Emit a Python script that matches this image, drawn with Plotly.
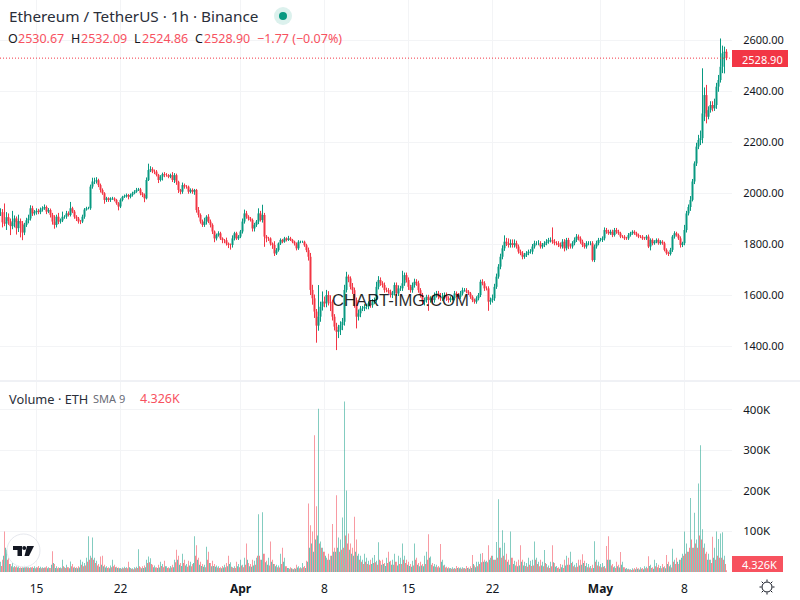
from datetime import datetime, timedelta
import plotly.graph_objects as go

FONT = "Noto Sans"
UP = "#089981"
DOWN = "#f23645"
TEXT = "#131722"
LABEL_RED = "#f7525f"
GRID = "#f3f4f6"

# one row per 20 px of chart, candles in 4h steps
start = datetime(2025, 3, 12)
closes = [
    1925, 1885, 1880, 1905, 1890, 1870, 1885, 1900, 1862, 1890,
    1880, 1845, 1875, 1893, 1900, 1940, 1920, 1925, 1930, 1925,
    1935, 1940, 1945, 1927, 1933, 1914, 1888, 1875, 1907, 1888,
    1892, 1907, 1907, 1920, 1914, 1940, 1927, 1907, 1900, 1888,
    1888, 1907, 1935, 1940, 1940, 2025, 2045, 2045, 2050, 2031,
    2012, 1999, 1973, 1979, 1973, 1979, 1979, 1973, 1960, 1947,
    1973, 1985, 1988, 1992, 1985, 1992, 1999, 2005, 2012, 2014,
    1999, 1992, 1979, 2051, 2090, 2093, 2084, 2084, 2071, 2051,
    2064, 2074, 2070, 2070, 2064, 2070, 2051, 2070, 2044, 2012,
    2005, 2031, 2025, 2025, 2005, 2012, 2005, 2012, 1933, 1914,
    1888, 1875, 1888, 1907, 1888, 1875, 1849, 1822, 1835, 1842,
    1822, 1815, 1815, 1802, 1796, 1796, 1822, 1842, 1822, 1829,
    1849, 1888, 1920, 1907, 1900, 1894, 1861, 1875, 1888, 1920,
    1894, 1914, 1829, 1822, 1822, 1802, 1796, 1763, 1776, 1802,
    1816, 1809, 1822, 1816, 1822, 1816, 1809, 1802, 1783, 1809,
    1809, 1809, 1795, 1776, 1750, 1620, 1587, 1535, 1480, 1515,
    1554, 1574, 1567, 1600, 1574, 1567, 1515, 1476, 1456, 1463,
    1482, 1495, 1620, 1672, 1665, 1632, 1619, 1580, 1515, 1528,
    1547, 1547, 1554, 1554, 1567, 1560, 1574, 1580, 1632, 1659,
    1646, 1639, 1619, 1619, 1613, 1600, 1606, 1639, 1606, 1626,
    1626, 1646, 1678, 1659, 1632, 1619, 1639, 1652, 1646, 1619,
    1600, 1574, 1580, 1593, 1580, 1587, 1580, 1600, 1606, 1593,
    1587, 1593, 1600, 1587, 1580, 1587, 1587, 1606, 1600, 1593,
    1606, 1619, 1619, 1613, 1606, 1593, 1580, 1574, 1587, 1600,
    1652, 1646, 1626, 1626, 1574, 1580, 1587, 1632, 1672, 1711,
    1750, 1783, 1809, 1802, 1796, 1803, 1796, 1803, 1790, 1770,
    1764, 1750, 1757, 1764, 1770, 1770, 1790, 1803, 1803, 1803,
    1790, 1796, 1803, 1809, 1816, 1816, 1809, 1803, 1803, 1796,
    1790, 1809, 1783, 1816, 1790, 1790, 1803, 1816, 1829, 1822,
    1809, 1796, 1790, 1803, 1803, 1803, 1737, 1790, 1803, 1816,
    1816, 1822, 1855, 1848, 1842, 1848, 1835, 1855, 1848, 1842,
    1829, 1829, 1822, 1822, 1835, 1842, 1848, 1842, 1835, 1829,
    1829, 1822, 1822, 1829, 1790, 1816, 1803, 1809, 1816, 1803,
    1809, 1803, 1777, 1764, 1761, 1777, 1829, 1842, 1835, 1822,
    1796, 1803, 1855, 1920, 1945, 1973, 2045, 2116, 2182, 2208,
    2215, 2312, 2384, 2299, 2325, 2345, 2332, 2345, 2417, 2443,
    2495, 2548, 2554, 2528.9,
]
up_wicks = [
    15, 12, 74, 20, 15, 10, 45, 12, 8, 25,
    10, 10, 8, 10, 15, 12, 10, 8, 10, 8,
    8, 8, 10, 6, 8, 6, 8, 25, 8, 15,
    8, 20, 6, 10, 8, 25, 6, 6, 6, 6,
    6, 8, 6, 6, 6, 8, 15, 15, 12, 6,
    6, 6, 4, 6, 4, 4, 6, 4, 4, 4,
    6, 4, 6, 6, 4, 6, 6, 6, 8, 6,
    6, 4, 6, 10, 25, 12, 8, 8, 6, 4,
    6, 6, 8, 8, 4, 6, 12, 8, 6, 4,
    4, 10, 6, 6, 4, 6, 6, 4, 4, 12,
    6, 8, 15, 6, 10, 8, 6, 4, 6, 8,
    6, 4, 4, 10, 4, 6, 12, 6, 6, 6,
    6, 12, 15, 10, 6, 6, 6, 8, 6, 20,
    10, 40, 8, 6, 6, 4, 4, 15, 8, 4,
    6, 4, 6, 4, 10, 6, 4, 4, 4, 6,
    4, 4, 4, 6, 10, 15, 20, 15, 10, 124,
    20, 40, 20, 20, 15, 25, 15, 10, 15, 20,
    15, 15, 20, 19, 8, 8, 15, 10, 10, 15,
    10, 10, 10, 12, 8, 12, 10, 10, 20, 15,
    10, 8, 10, 10, 8, 8, 10, 10, 10, 12,
    10, 49, 10, 10, 10, 8, 10, 12, 10, 10,
    8, 8, 10, 8, 8, 8, 8, 10, 10, 10,
    15, 15, 10, 10, 8, 8, 8, 10, 8, 8,
    10, 10, 8, 8, 6, 6, 6, 6, 8, 8,
    8, 10, 8, 8, 8, 10, 15, 12, 12, 10,
    12, 12, 25, 15, 20, 15, 15, 15, 10, 8,
    8, 8, 8, 8, 8, 10, 10, 10, 8, 12,
    8, 8, 8, 10, 8, 10, 49, 10, 8, 8,
    10, 10, 10, 8, 8, 12, 8, 10, 10, 8,
    8, 8, 8, 8, 8, 8, 8, 8, 10, 8,
    8, 8, 10, 8, 8, 8, 8, 8, 8, 8,
    6, 6, 6, 6, 8, 6, 6, 6, 6, 6,
    6, 6, 6, 6, 8, 6, 6, 6, 6, 6,
    6, 6, 6, 6, 6, 8, 6, 8, 6, 6,
    8, 6, 20, 10, 10, 15, 10, 8, 15, 20,
    30, 177, 30, 40, 15, 15, 15, 25, 15, 20,
    111, 30, 20, 10,
]
down_wicks = [
    15, 20, 10, 25, 15, 35, 12, 20, 25, 15,
    54, 30, 10, 8, 12, 8, 10, 8, 10, 8,
    8, 8, 6, 10, 6, 10, 12, 15, 10, 10,
    8, 6, 8, 8, 6, 6, 6, 8, 10, 8,
    10, 6, 8, 4, 4, 6, 8, 10, 8, 8,
    10, 6, 15, 8, 8, 8, 6, 6, 6, 15,
    6, 6, 4, 6, 10, 6, 6, 4, 4, 4,
    8, 8, 15, 4, 4, 8, 6, 10, 6, 12,
    6, 15, 8, 6, 6, 6, 8, 12, 12, 12,
    10, 8, 8, 8, 8, 6, 8, 12, 10, 10,
    8, 8, 8, 12, 6, 10, 10, 15, 8, 6,
    6, 12, 12, 8, 12, 18, 10, 8, 6, 6,
    6, 8, 8, 8, 8, 6, 12, 12, 8, 10,
    6, 10, 40, 15, 10, 8, 15, 10, 6, 6,
    6, 6, 4, 6, 4, 4, 6, 8, 8, 6,
    6, 4, 6, 8, 15, 20, 25, 25, 67, 20,
    20, 15, 15, 15, 15, 30, 15, 15, 72, 25,
    20, 20, 15, 10, 15, 10, 15, 30, 46, 15,
    15, 10, 10, 10, 10, 10, 10, 10, 10, 10,
    10, 10, 10, 8, 8, 10, 12, 8, 10, 10,
    10, 10, 10, 10, 12, 10, 10, 10, 10, 10,
    10, 10, 15, 10, 42, 10, 10, 10, 10, 10,
    10, 10, 10, 10, 10, 8, 8, 8, 8, 8,
    8, 8, 6, 6, 6, 8, 8, 8, 8, 8,
    8, 8, 10, 8, 36, 12, 10, 10, 8, 8,
    10, 10, 10, 10, 10, 10, 10, 10, 8, 8,
    8, 10, 8, 8, 8, 8, 10, 8, 8, 8,
    8, 8, 8, 8, 8, 10, 8, 8, 8, 8,
    8, 8, 12, 8, 10, 8, 8, 8, 8, 8,
    8, 8, 8, 8, 8, 8, 6, 8, 8, 8,
    6, 8, 8, 8, 6, 6, 8, 6, 8, 6,
    6, 6, 6, 6, 6, 6, 6, 6, 6, 6,
    6, 6, 6, 6, 6, 15, 8, 6, 6, 6,
    6, 6, 6, 6, 8, 6, 8, 8, 6, 6,
    10, 8, 8, 10, 8, 15, 6, 10, 10, 10,
    20, 20, 30, 26, 10, 10, 12, 10, 15, 20,
    10, 25, 79, 8,
]
volumes_k = [
    25, 30, 100, 55, 35, 20, 22, 15, 14, 16,
    12, 14, 18, 15, 12, 12, 13, 14, 12, 15,
    13, 12, 11, 14, 12, 10, 51, 20, 14, 12,
    11, 30, 12, 18, 12, 26, 20, 13, 12, 14,
    30, 25, 22, 35, 88, 40, 85, 35, 28, 20,
    38, 40, 18, 14, 12, 16, 30, 18, 13, 11,
    10, 11, 13, 12, 25, 10, 9, 12, 13, 56,
    12, 14, 16, 30, 38, 34, 18, 16, 12, 18,
    25, 20, 28, 14, 12, 15, 18, 30, 55, 40,
    22, 45, 30, 20, 28, 25, 20, 88, 66, 35,
    25, 20, 18, 62, 50, 22, 28, 20, 16, 14,
    12, 15, 18, 22, 40, 24, 12, 14, 25, 20,
    30, 18, 35, 70, 22, 20, 30, 28, 35, 142,
    30, 147, 45, 28, 35, 75, 30, 20, 18, 16,
    45, 60, 35, 14, 10, 12, 8, 10, 18, 14,
    12, 22, 15, 28, 169, 115, 100, 337, 162, 402,
    75, 60, 50, 35, 45, 40, 118, 60, 189, 85,
    80, 134, 420, 201, 95, 70, 60, 136, 80, 45,
    40, 30, 45, 35, 28, 30, 35, 42, 28, 73,
    28, 30, 22, 35, 50, 28, 30, 45, 25, 40,
    35, 70, 40, 30, 25, 20, 28, 70, 35, 22,
    25, 20, 40, 50, 93, 38, 22, 20, 18, 15,
    69, 30, 18, 13, 12, 10, 12, 10, 15, 12,
    11, 12, 10, 15, 11, 14, 42, 16, 25, 25,
    45, 47, 30, 28, 66, 35, 40, 30, 74, 179,
    60, 103, 72, 45, 30, 100, 35, 28, 25, 30,
    66, 30, 25, 22, 35, 28, 30, 75, 35, 25,
    30, 25, 54, 20, 16, 25, 66, 22, 15, 12,
    20, 18, 30, 40, 35, 50, 25, 18, 22, 30,
    30, 44, 28, 22, 20, 15, 18, 76, 30, 25,
    20, 22, 15, 64, 88, 30, 20, 14, 25, 18,
    49, 25, 12, 10, 8, 7, 9, 10, 12, 9,
    12, 10, 14, 13, 39, 18, 12, 30, 22, 18,
    15, 20, 14, 42, 25, 18, 57, 30, 35, 20,
    30, 45, 100, 70, 50, 182, 60, 146, 80, 218,
    312, 105, 70, 50, 45, 30, 87, 60, 100, 81,
    95, 98, 40, 4.326,
]
# the quieter bars that sit between the ones above
volumes_mid_k = [
    15, 40, 60, 30, 20, 14, 12, 12, 11, 10,
    10, 11, 12, 11, 10, 11, 10, 9, 11, 10,
    9, 10, 11, 9, 10, 18, 22, 10, 9, 10,
    9, 14, 10, 12, 9, 14, 11, 10, 9, 11,
    18, 14, 16, 25, 30, 35, 30, 22, 16, 13,
    18, 14, 11, 10, 9, 12, 14, 12, 10, 9,
    8, 9, 10, 9, 12, 8, 7, 9, 10, 14,
    9, 10, 12, 22, 24, 20, 12, 11, 10, 11,
    15, 12, 14, 10, 9, 11, 12, 24, 30, 18,
    15, 22, 16, 13, 16, 14, 22, 40, 30, 18,
    15, 13, 12, 30, 22, 14, 15, 13, 11, 10,
    9, 11, 12, 14, 20, 13, 10, 10, 14, 12,
    16, 12, 18, 30, 14, 13, 16, 18, 40, 40,
    30, 45, 24, 18, 16, 25, 20, 14, 12, 11,
    20, 25, 14, 10, 8, 9, 7, 8, 11, 9,
    9, 12, 10, 25, 60, 70, 50, 80, 90, 70,
    60, 50, 40, 30, 30, 40, 50, 50, 60, 50,
    55, 60, 90, 70, 55, 45, 40, 50, 40, 30,
    25, 20, 25, 20, 18, 20, 22, 24, 18, 30,
    18, 20, 15, 22, 25, 18, 18, 25, 16, 20,
    20, 30, 22, 18, 15, 13, 16, 30, 18, 14,
    16, 14, 20, 30, 35, 18, 14, 13, 12, 11,
    25, 16, 11, 9, 9, 8, 8, 8, 10, 9,
    8, 9, 8, 10, 8, 10, 20, 12, 14, 20,
    24, 25, 25, 24, 30, 40, 30, 30, 35, 60,
    35, 40, 30, 25, 18, 35, 20, 16, 14, 16,
    25, 16, 15, 13, 18, 15, 16, 30, 20, 14,
    16, 14, 22, 12, 10, 14, 24, 13, 10, 8,
    12, 10, 16, 18, 18, 22, 14, 12, 13, 16,
    18, 22, 15, 12, 11, 9, 10, 25, 16, 14,
    12, 13, 9, 30, 30, 16, 12, 10, 14, 11,
    18, 12, 8, 7, 6, 5, 6, 7, 8, 6,
    8, 7, 9, 9, 15, 10, 8, 14, 12, 10,
    9, 12, 9, 20, 14, 11, 25, 20, 25, 30,
    35, 40, 45, 50, 60, 80, 60, 70, 60, 90,
    80, 60, 45, 30, 30, 22, 35, 30, 40, 35,
    35, 30, 20,
]
price_ticks = [1400, 1600, 1800, 2000, 2200, 2400, 2600]
volume_ticks = [100, 200, 300, 400]
date_ticks = ["2025-03-15", "2025-03-22", "2025-04-01", "2025-04-08",
              "2025-04-15", "2025-04-22", "2025-05-01", "2025-05-08"]
date_labels = ["15", "22", "<b>Apr</b>", "8", "15", "22", "<b>May</b>", "8"]

times = [start + timedelta(hours=4 * i) for i in range(len(closes))]
mid_times = [t + timedelta(hours=2) for t in times[:len(volumes_mid_k)]]
opens = [closes[0]] + closes[:-1]
highs = [max(o, c) + w for o, c, w in zip(opens, closes, up_wicks)]
lows = [min(o, c) - w for o, c, w in zip(opens, closes, down_wicks)]
vol_colors = ["rgba(8,153,129,0.5)" if c >= o else "rgba(242,54,69,0.5)"
              for o, c in zip(opens, closes)]
# in-between bars take the other colour, the two mix like in the hourly original
mid_colors = ["rgba(242,54,69,0.6)" if c >= o else "rgba(8,153,129,0.6)"
              for o, c in zip(opens, closes)]


def px(x):
    return x / 800


def py(y):
    return 1 - y / 600


fig = go.Figure()
fig.add_trace(go.Candlestick(
    x=times, open=opens, high=highs, low=lows, close=closes,
    increasing=dict(line=dict(color=UP, width=1), fillcolor=UP),
    decreasing=dict(line=dict(color=DOWN, width=1), fillcolor=DOWN),
    whiskerwidth=0, xaxis="x", yaxis="y", showlegend=False,
))
fig.add_trace(go.Bar(
    x=mid_times, y=volumes_mid_k, marker=dict(color=mid_colors[:len(mid_times)], line_width=0),
    width=2 * 3600 * 1000, xaxis="x2", yaxis="y2", showlegend=False,
))
fig.add_trace(go.Bar(
    x=times, y=volumes_k, marker=dict(color=vol_colors, line_width=0),
    width=2 * 3600 * 1000, xaxis="x2", yaxis="y2", showlegend=False,
))

x_start = datetime(2025, 3, 15) - timedelta(hours=36.5 * 2)
x_end = datetime(2025, 3, 15) + timedelta(hours=(732 - 36.5) * 2)
common_x = dict(
    type="date", range=[x_start, x_end], domain=[0, px(732)],
    tickvals=date_ticks, showgrid=True, gridcolor=GRID, gridwidth=1,
    zeroline=False, showline=False, rangeslider=dict(visible=False),
)
fig.update_layout(
    width=800, height=600, margin=dict(l=0, r=0, t=0, b=0),
    paper_bgcolor="white", plot_bgcolor="white", showlegend=False,
    font=dict(family=FONT, size=12, color=TEXT), barmode="overlay",
    xaxis=dict(**common_x, anchor="y", showticklabels=False, ticks=""),
    xaxis2=dict(**common_x, anchor="y2", ticktext=date_labels,
                ticks="outside", ticklen=6, tickcolor="rgba(0,0,0,0)"),
    yaxis=dict(
        domain=[py(380), 1], side="right", anchor="x", range=[1266.7, 2756.9],
        tickvals=price_ticks, ticktext=[f"{p}.00" for p in price_ticks],
        tickfont=dict(size=11), gridcolor=GRID, zeroline=False, showline=False,
        ticks="outside", ticklen=8, tickcolor="rgba(0,0,0,0)",
    ),
    yaxis2=dict(
        domain=[py(572), py(382)], side="right", anchor="x2", range=[0, 468],
        tickvals=volume_ticks, ticktext=[f"{v}K" for v in volume_ticks],
        tickfont=dict(size=11.5), gridcolor=GRID, zeroline=False, showline=False,
        ticks="outside", ticklen=8, tickcolor="rgba(0,0,0,0)",
    ),
)

shapes = [
    # pane separator and last price line
    dict(type="line", xref="paper", yref="paper", x0=0, x1=1, y0=py(381), y1=py(381),
         line=dict(color="#e0e3eb", width=1)),
    dict(type="line", xref="paper", yref="y", x0=0, x1=px(732), y0=2528.9, y1=2528.9,
         line=dict(color=DOWN, width=1, dash="1px,2px")),
    # status dot
    dict(type="circle", xref="paper", yref="paper", x0=px(274), x1=px(292), y0=py(25), y1=py(7),
         fillcolor="rgba(8,153,129,0.14)", line_width=0),
    dict(type="circle", xref="paper", yref="paper", x0=px(279), x1=px(287), y0=py(20), y1=py(12),
         fillcolor=UP, line_width=0),
    # price tags
    dict(type="rect", xref="paper", yref="paper", x0=px(732), x1=px(788), y0=py(67), y1=py(50),
         fillcolor=DOWN, line_width=0),
    dict(type="rect", xref="paper", yref="paper", x0=px(732), x1=px(783), y0=py(572), y1=py(556),
         fillcolor=LABEL_RED, line_width=0),
    # TradingView badge
    dict(type="circle", xref="paper", yref="paper", x0=px(7), x1=px(40), y0=py(567), y1=py(534),
         fillcolor="rgba(255,255,255,0.9)", line=dict(color="#e6e8ee", width=1)),
]


def path_px(points):
    return "M " + " L ".join(f"{px(x):.5f},{py(y):.5f}" for x, y in points) + " Z"


logo_parts = [
    [(13, 546), (22, 546), (22, 556), (17.5, 556), (17.5, 550), (13, 550)],
    [(27, 546), (34, 546), (29, 556), (24.5, 556)],
]
for part in logo_parts:
    shapes.append(dict(type="path", xref="paper", yref="paper", path=path_px(part),
                       fillcolor="#131722", line_width=0))
shapes.append(dict(type="circle", xref="paper", yref="paper", x0=px(22.2), x1=px(26.2), y0=py(550), y1=py(546),
                   fillcolor="#131722", line_width=0))

# theme button in the corner
shapes.append(dict(type="circle", xref="paper", yref="paper", x0=px(762), x1=px(772), y0=py(592), y1=py(582),
                   fillcolor="white", line=dict(color=TEXT, width=1)))
sun_rays = [((767, 579.5), (767, 581.5)), ((767, 592.5), (767, 594.5)),
            ((759.5, 587), (761.5, 587)), ((772.5, 587), (774.5, 587)),
            ((761.7, 581.7), (763, 583)), ((771, 591), (772.3, 592.3)),
            ((761.7, 592.3), (763, 591)), ((771, 583), (772.3, 581.7))]
for a, b in sun_rays:
    shapes.append(dict(type="line", xref="paper", yref="paper", x0=px(a[0]), y0=py(a[1]), x1=px(b[0]), y1=py(b[1]),
                       line=dict(color=TEXT, width=1)))
fig.update_layout(shapes=shapes)


def label(x, y, text, color=TEXT, size=12, anchor="left", family=FONT):
    fig.add_annotation(xref="paper", yref="paper", x=px(x), y=py(y), text=text, showarrow=False,
                       xanchor=anchor, yanchor="middle", align=anchor,
                       font=dict(family=family, size=size, color=color),
                       borderpad=0, borderwidth=0)


label(9, 16, "Ethereum / TetherUS · 1h · Binance", size=15.3, color="#2a2e39")
ohlc_row = [(8, "O", TEXT), (18, "2530.67", LABEL_RED), (71, "H", TEXT), (81, "2532.09", LABEL_RED),
            (134, "L", TEXT), (142, "2524.86", LABEL_RED), (195, "C", TEXT), (204, "2528.90", LABEL_RED),
            (257, "−1.77 (−0.07%)", LABEL_RED)]
for x, text, color in ohlc_row:
    label(x, 38.5, text, color, size=12.5)
label(9, 398.5, "Volume · ETH", color="#2a2e39", size=12.8)
label(93, 398.5, "SMA 9", color="#6a6d78", size=11)
label(140, 398.5, "4.326K", LABEL_RED, size=12.5)
label(742, 59, "2528.90", "white", size=11)
label(742, 564, "4.326K", "white", size=11)
label(400, 300, "CHART-IMG.COM", "rgba(0,0,0,0.85)", size=16.7, anchor="center", family="Liberation Sans")

fig.write_html("out.html", config=dict(displayModeBar=False),
               post_script="document.body.style.margin='0';")
